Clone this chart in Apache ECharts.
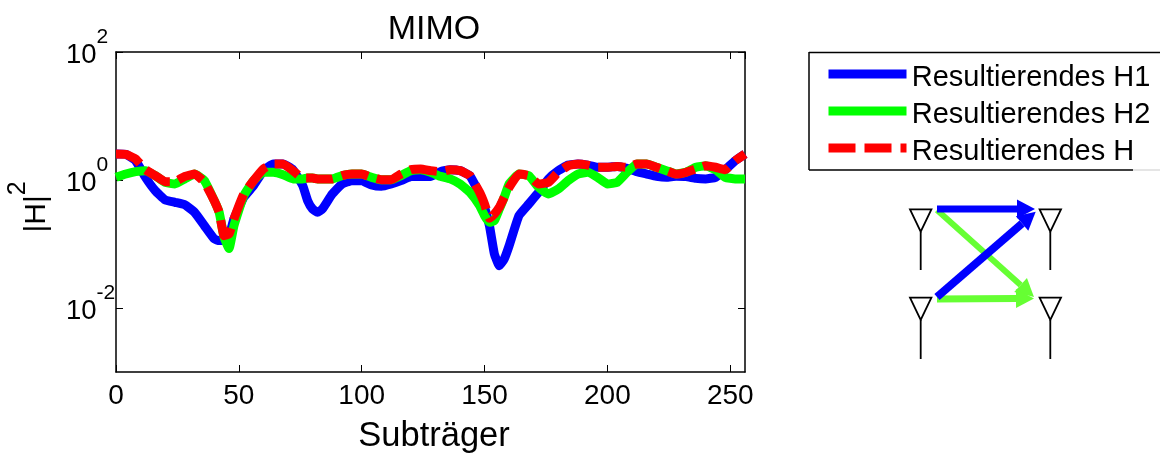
<!DOCTYPE html>
<html><head><meta charset="utf-8">
<style>html,body{margin:0;padding:0;background:#fff}#c{width:1160px;height:454px}</style>
<script src="https://cdn.jsdelivr.net/npm/echarts@6/dist/echarts.min.js"></script>
</head><body><div id="c"></div>
<script>
const subcarriers = [0,4,8,12,16,20,24,28,32,36,40,42,44,46,48,52,56,60,64,68,72,76,78,80,82,84,88,92,96,100,104,108,112,116,120,124,128,132,136,140,144,148,150,152,154,156,158,160,164,168,172,176,180,184,188,192,196,200,204,208,212,216,220,224,228,232,236,240,244,248,252,256];
const h1 = [2.55,2.52,2.0,1.10,.68,.49,.448,.41,.312,.193,.12,.113,.113,.135,.246,.536,.816,1.40,1.78,1.78,1.45,.816,.475,.352,.312,.352,.604,.866,.977,.977,.835,.796,.866,.977,1.13,1.13,1.13,1.35,1.45,1.40,1.17,.604,.374,.193,.0698,.0458,.0583,.094,.277,.422,.642,1.04,1.40,1.71,1.78,1.71,1.58,1.58,1.63,1.52,1.35,1.24,1.14,1.10,1.14,1.13,1.06,1.04,1.10,1.45,2.0,2.55];
const h2 = [1.10,1.24,1.35,1.40,1.17,.92,.866,1.04,1.24,.977,.475,.312,.127,.085,.193,.569,.977,1.32,1.32,1.21,1.04,1.04,1.07,1.07,1.04,1.04,1.04,1.17,1.24,1.24,1.10,1.01,1.01,1.17,1.40,1.45,1.32,1.14,1.04,.866,.642,.397,.277,.218,.232,.352,.536,.866,1.24,1.17,.768,.604,.723,.977,1.24,1.32,1.10,.866,.92,1.32,1.78,1.78,1.58,1.40,1.24,1.32,1.58,1.67,1.45,1.10,1.04,1.04];
const h = [2.55,2.52,2.13,1.45,1.17,.942,.942,1.14,1.24,.92,.475,.312,.135,.143,.246,.604,.977,1.49,1.78,1.78,1.40,1.07,1.07,1.07,1.04,1.04,1.04,1.17,1.24,1.24,1.10,1.01,1.01,1.24,1.45,1.49,1.40,1.35,1.45,1.40,1.17,.642,.422,.252,.294,.374,.536,.768,1.24,1.17,.866,.92,1.32,1.67,1.78,1.71,1.58,1.58,1.63,1.58,1.78,1.78,1.58,1.40,1.24,1.32,1.49,1.67,1.58,1.45,2.0,2.55];
const yTicks = [0.01,1,100];
const names = ['Resultierendes H1','Resultierendes H2','Resultierendes H'];
const FONT = '"Liberation Sans", Arial, sans-serif';
const chart = echarts.init(document.getElementById('c'), null, {renderer:'canvas'});
const pair = a => subcarriers.map((x,i)=>[x,a[i]]);
const lineS = (name,data,color,type) => ({name,type:'line',data:pair(data),symbol:'none',smooth:0.12,animation:false,
  lineStyle:{color,width:9,type,cap:'butt',join:'round'},itemStyle:{color},clip:true});
const axLine = {show:true,onZero:false,lineStyle:{color:'#000',width:1.5}};
const exp = v => Math.round(Math.log10(v));
function arrow(x1,y1,x2,y2,w,color){
  const a=Math.atan2(y2-y1,x2-x1),c=Math.cos(a),s=Math.sin(a),L=18,H=9.5;
  const bx=x2-L*c,by=y2-L*s;
  return [
   {type:'line',silent:true,shape:{x1,y1,x2:bx,y2:by},style:{stroke:color,lineWidth:w}},
   {type:'polygon',silent:true,shape:{points:[[x2,y2],[bx-H*s,by+H*c],[bx+H*s,by-H*c]]},style:{fill:color}}
  ];
}
function antenna(cx,top,apex,bottom){
  return [{type:'polygon',silent:true,shape:{points:[[cx-10.7,top],[cx+10.7,top],[cx,apex]]},style:{fill:'none',stroke:'#000',lineWidth:1.8}},
   {type:'line',silent:true,shape:{x1:cx,y1:apex,x2:cx,y2:bottom},style:{stroke:'#000',lineWidth:1.8}}];
}
chart.setOption({
  animation:false,backgroundColor:'#fff',
  title:{text:'MIMO',left:429,top:8,textAlign:'center',textStyle:{fontFamily:FONT,fontSize:34,fontWeight:'normal',color:'#000'}},
  grid:{left:116,top:52,width:629,height:320,outerBoundsMode:'none'},
  legend:{left:824,top:63,padding:0,orient:'vertical',itemWidth:78,itemHeight:9,itemGap:8,data:names,selectedMode:false,
    itemStyle:{opacity:0},lineStyle:{width:9},formatter:n=>'{sp| }{t|'+n+'}',
    textStyle:{fontFamily:FONT,fontSize:29,color:'#000',padding:[0,0,0,0],
      rich:{sp:{fontSize:1,lineHeight:36},t:{fontFamily:FONT,fontSize:29,color:'#000',lineHeight:28,verticalAlign:'bottom'}}}},
  xAxis:[{type:'value',min:0,max:256,interval:50,position:'bottom',
    name:'Subträger',nameLocation:'middle',nameGap:47,nameTextStyle:{fontFamily:FONT,fontSize:34.5,color:'#000',padding:[0,0,0,7]},
    axisLine:axLine,axisTick:{show:true,inside:true,length:7,lineStyle:{color:'#000',width:1}},
    axisLabel:{fontFamily:FONT,fontSize:28,color:'#000',margin:10,showMaxLabel:false},splitLine:{show:false}},
   {type:'value',min:0,max:256,interval:50,position:'top',axisLine:axLine,
    axisTick:{show:true,inside:true,length:7,lineStyle:{color:'#000',width:1}},axisLabel:{show:false},splitLine:{show:false}}],
  yAxis:[{type:'log',logBase:10,min:0.001,max:100,position:'left',
    name:'{m||H|}{s|2}',nameLocation:'middle',nameGap:49,nameRotate:90,
    nameTextStyle:{fontFamily:FONT,color:'#000',padding:[0,0,0,10],rich:{m:{fontFamily:FONT,fontSize:30,color:'#000',lineHeight:61},s:{fontFamily:FONT,fontSize:25,color:'#000',verticalAlign:'top',lineHeight:25}}},
    axisLine:axLine,axisTick:{show:true,inside:true,length:7,customValues:yTicks,lineStyle:{color:'#000',width:1}},minorTick:{show:false},
    axisLabel:{customValues:yTicks,margin:50,align:'left',padding:[6,0,0,0],formatter:v=>'{b|10}{e|'+exp(v)+'}',
      rich:{b:{fontFamily:FONT,fontSize:27.5,color:'#000',lineHeight:56},e:{fontFamily:FONT,fontSize:21,color:'#000',verticalAlign:'top',lineHeight:21}}},
    splitLine:{show:false},minorSplitLine:{show:false}},
   {type:'log',logBase:10,min:0.001,max:100,position:'right',axisLine:axLine,
    axisTick:{show:true,inside:true,length:7,customValues:yTicks,lineStyle:{color:'#000',width:1}},axisLabel:{show:false},splitLine:{show:false}}],
  series:[lineS(names[0],h1,'#0000ff','solid'),lineS(names[1],h2,'#00ff00','solid'),lineS(names[2],h,'#ff0000',[27,9])],
  graphic:[
   {type:'line',silent:true,z:-1,shape:{x1:809,y1:52.5,x2:1160,y2:52.5},style:{stroke:'#000',lineWidth:1.5}},
   {type:'line',silent:true,z:-1,shape:{x1:809,y1:52,x2:809,y2:170},style:{stroke:'#000',lineWidth:1.5}},
   {type:'line',silent:true,z:-1,shape:{x1:809,y1:170,x2:1133,y2:170},style:{stroke:'#000',lineWidth:1.5}},
   {type:'line',silent:true,z:-1,shape:{x1:1133,y1:170,x2:1160,y2:170},style:{stroke:'#ddd',lineWidth:1.5}},
   ...antenna(920.7,209.3,231.7,270),...antenna(920.7,297.7,320,359),
   ...antenna(1050.3,209.3,231.7,270),...antenna(1050.3,297.7,320,359),
   ...arrow(937,210,1034,297,6,'#66ff33'),
   ...arrow(937,299,1034,298.5,7,'#66ff33'),
   ...arrow(937,209,1035,209,7,'#0000ff'),
   ...arrow(937,297,1035.7,211.7,8,'#0000ff')
  ]
});
</script></body></html>
